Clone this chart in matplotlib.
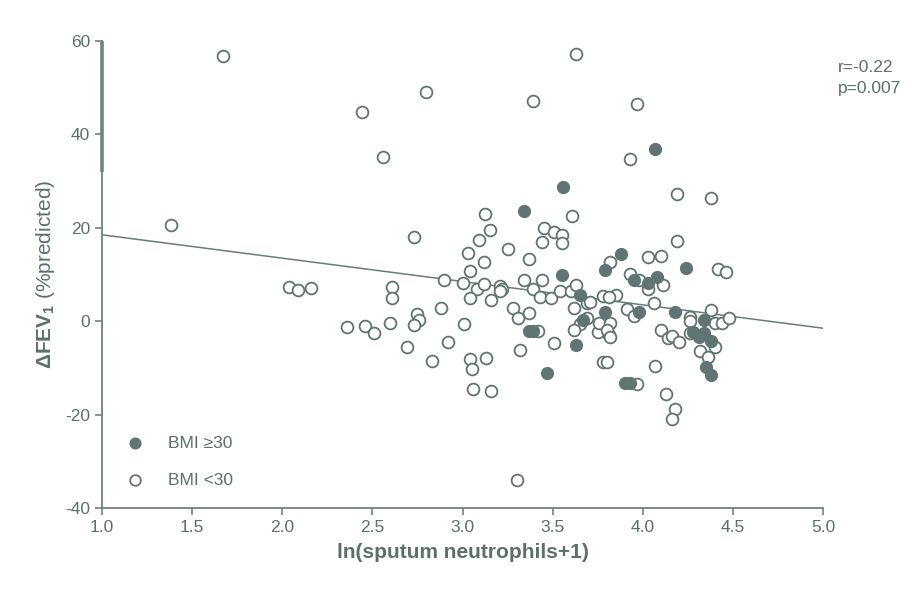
import matplotlib
matplotlib.use("Agg")
import matplotlib.pyplot as plt

# ln(sputum neutrophils + 1) and change in FEV1 (% predicted)
bmi_high_x = [3.56, 3.34, 4.07, 3.55, 3.88, 3.79, 4.24, 3.95, 4.03, 4.08,
              3.65, 3.67, 3.79, 3.98, 4.18, 4.34, 4.28, 4.31, 4.34, 4.38,
              4.35, 4.38, 3.37, 3.39, 3.63, 3.47, 3.90, 3.93]
bmi_high_y = [28.7, 23.7, 36.8, 9.9, 14.3, 10.9, 11.4, 8.8, 8.1, 9.5,
              5.6, 0.2, 2.0, 1.9, 1.9, 0.2, -2.3, -3.4, -2.6, -4.2,
              -9.9, -11.6, -2.0, -2.2, -5.1, -11.2, -13.2, -13.2]

bmi_low_x = [1.67, 3.63, 2.44, 2.80, 3.39, 3.97, 2.56, 3.93, 4.19, 4.38,
             3.125, 3.61, 1.38, 2.73, 3.15, 3.09, 3.03, 3.12, 3.04, 3.25,
             3.45, 3.51, 3.55, 3.55, 3.44, 3.37, 3.34, 3.44, 2.90, 3.00,
             3.08, 3.12, 3.21, 3.22, 3.21, 3.04, 3.16, 2.61, 2.61, 2.60,
             2.88, 2.75, 2.76, 2.73, 3.01, 2.69, 2.92, 2.83, 3.04, 3.05,
             3.13, 3.28, 3.31, 3.37, 3.42, 3.32, 3.51, 3.39, 3.43, 3.49,
             3.54, 3.60, 3.63, 3.62, 3.69, 3.65, 3.62, 3.69, 3.75, 3.81,
             3.78, 3.80, 4.19, 4.03, 4.10, 3.82, 4.42, 4.46, 3.93, 3.98,
             4.03, 4.11, 3.85, 3.78, 3.81, 4.06, 3.91, 3.95, 4.26, 4.26,
             4.38, 4.40, 4.44, 4.48, 3.71, 3.76, 3.82, 3.80, 3.82, 4.10,
             4.14, 4.16, 4.20, 4.26, 4.40, 4.32, 4.36, 4.07, 3.06, 3.16,
             3.97, 4.13, 4.18, 4.16, 3.30, 2.04, 2.09, 2.16, 2.36, 2.46,
             2.51]
bmi_low_y = [56.7, 57.2, 44.8, 49.0, 47.1, 46.6, 35.1, 34.8, 27.2, 26.4,
             22.9, 22.5, 20.6, 18.0, 19.5, 17.3, 14.7, 12.6, 10.8, 15.4,
             19.9, 19.1, 18.4, 16.7, 17.0, 13.3, 8.9, 8.9, 8.8, 8.2,
             6.8, 7.9, 7.6, 7.0, 6.4, 4.9, 4.5, 7.3, 4.9, -0.4,
             2.9, 1.6, 0.2, -0.9, -0.7, -5.5, -4.4, -8.5, -8.2, -10.3,
             -7.8, 2.9, 0.7, 1.8, -2.2, -6.1, -4.6, 7.0, 5.2, 5.0,
             6.4, 6.5, 7.7, 2.9, 3.8, -0.5, -1.9, 0.6, -2.3, -3.0,
             -8.7, -8.7, 17.2, 13.7, 14.0, 12.6, 11.2, 10.6, 10.1, 8.8,
             7.0, 7.7, 5.7, 5.4, 5.2, 4.0, 2.6, 1.1, 0.9, 0.0,
             2.4, -0.4, -0.4, 0.6, 4.1, -0.4, -0.4, -1.9, -3.4, -1.9,
             -3.7, -3.2, -4.4, -2.6, -5.6, -6.4, -7.6, -9.6, -14.5, -14.9,
             -13.5, -15.5, -18.9, -21.0, -33.9, 7.3, 6.6, 7.1, -1.2, -1.1,
             -2.5]

# Regression line (all subjects)
fit_slope = -5.0
fit_intercept = 23.5
fit_range = [1.0, 5.0]

r_text = "r=-0.22"
p_text = "p=0.007"

x_ticks = [1.0, 1.5, 2.0, 2.5, 3.0, 3.5, 4.0, 4.5, 5.0]
y_ticks = [-40, -20, 0, 20, 40, 60]

mark_color = "#5f7473"
text_color = "#5c6e6e"
axis_color = "#6e8383"

plt.rcParams["font.family"] = ["Liberation Sans", "DejaVu Sans"]
plt.rcParams["axes.unicode_minus"] = False
plt.rcParams["mathtext.fontset"] = "custom"
plt.rcParams["mathtext.rm"] = "Liberation Sans"
plt.rcParams["mathtext.bf"] = "Liberation Sans:bold"

fig = plt.figure(figsize=(9.24, 5.90), dpi=100)
ax = fig.add_axes([0.1104, 0.1390, 0.7803, 0.7915])

ax.plot(fit_range, [fit_intercept + fit_slope * v for v in fit_range],
        color="#6a7c7c", lw=1.1, zorder=1)

ax.scatter(bmi_low_x, bmi_low_y, s=72, facecolors="white",
           edgecolors=mark_color, linewidths=1.3, zorder=2, label="BMI <30")
ax.scatter(bmi_high_x, bmi_high_y, s=72, facecolors=mark_color,
           edgecolors=mark_color, linewidths=1.0, zorder=3, label="BMI \u226530")

ax.set_xlim(1.0, 5.0)
ax.set_ylim(-40, 60)
ax.set_xticks(x_ticks)
ax.set_xticklabels([f"{v:.1f}" for v in x_ticks])
ax.set_yticks(y_ticks)

for side in ("top", "right"):
    ax.spines[side].set_visible(False)
for side in ("left", "bottom"):
    ax.spines[side].set_color(axis_color)
    ax.spines[side].set_linewidth(1.3)
# heavier stroke along the upper part of the y axis
ax.plot([0, 0], [0.72, 1.0], transform=ax.transAxes, color=axis_color,
        lw=2.6, clip_on=False, zorder=5, solid_capstyle="butt")

ax.tick_params(axis="both", colors=axis_color, labelcolor=text_color,
               labelsize=12.5, length=5, width=1.2, direction="out")

ax.set_xlabel("ln(sputum neutrophils+1)", fontsize=15, fontweight="bold",
              color=text_color, labelpad=6)
ax.set_ylabel(r"$\mathbf{\Delta FEV_1}$ (%predicted)", fontsize=15,
              color=text_color, labelpad=6)

handles, labels = ax.get_legend_handles_labels()
leg = ax.legend(handles[::-1], labels[::-1], loc="lower left",
                bbox_to_anchor=(0.0, 0.01), frameon=False, fontsize=12.5,
                handletextpad=0.9, labelspacing=1.25, markerscale=0.9)
for t in leg.get_texts():
    t.set_color(text_color)

fig.text(838 / 924, 1 - 68 / 590, r_text, fontsize=12.5, color=text_color,
         va="center", ha="left")
fig.text(838 / 924, 1 - 89 / 590, p_text, fontsize=12.5, color=text_color,
         va="center", ha="left")

fig.savefig("out.png", dpi=100, facecolor="white")
